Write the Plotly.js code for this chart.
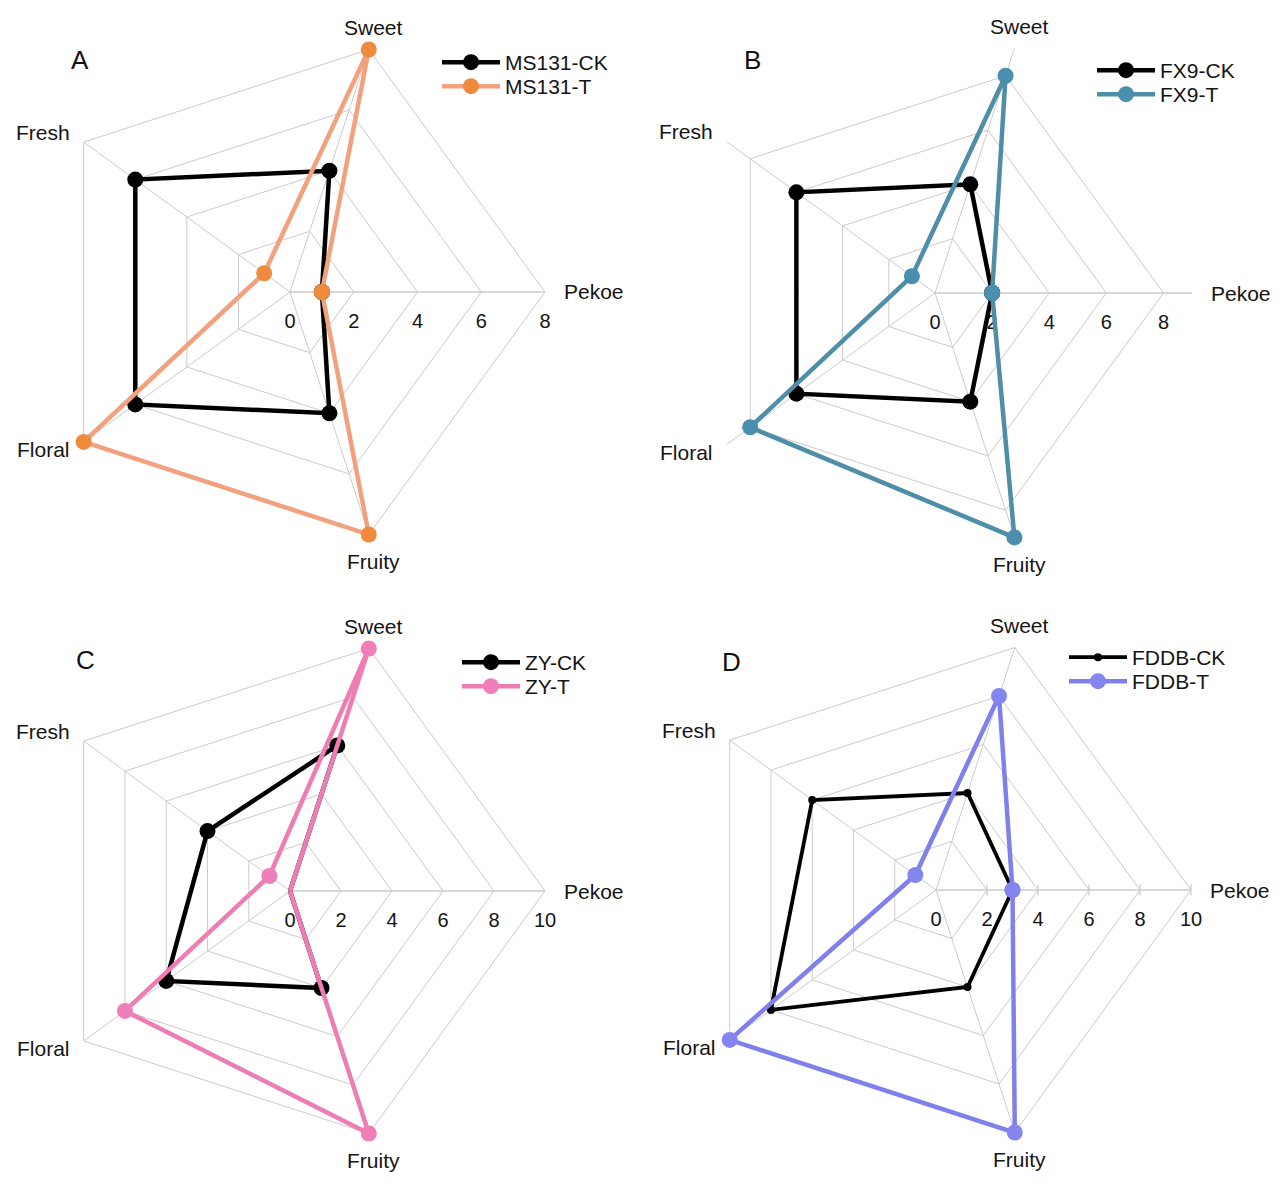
<!DOCTYPE html>
<html>
<head>
<meta charset="utf-8">
<script src="https://cdn.plot.ly/plotly-3.0.1.min.js"></script>
<style>
html,body{margin:0;padding:0;background:#fff;}
#chart{width:1280px;height:1183px;}
</style>
</head>
<body>
<div id="chart"></div>
<script>
// Attribute categories (counterclockwise from the right)
const categories = ["Pekoe", "Sweet", "Fresh", "Floral", "Fruity"];

// Panel A
const msCK = [1, 4, 6, 6, 4];
const msT  = [1, 8, 1, 8, 8];
// Panel B
const fxCK = [2, 4, 6, 6, 4];
const fxT  = [2, 8, 1, 8, 9];
// Panel C
const zyCK = [0, 6, 4, 6, 4];
const zyT  = [0, 10, 1, 8, 10];
// Panel D
const fdCK = [3, 4, 6, 8, 4];
const fdT  = [3, 8, 1, 10, 10];

const seriesNames = ["MS131-CK", "MS131-T", "FX9-CK", "FX9-T", "ZY-CK", "ZY-T", "FDDB-CK", "FDDB-T"];
const panelLetters = ["A", "B", "C", "D"];
const radialRanges = [[0, 8], [0, 9], [0, 10], [0, 10]];
const radialTicks = [[0, 2, 4, 6, 8], [0, 2, 4, 6, 8], [0, 2, 4, 6, 8, 10], [0, 2, 4, 6, 8, 10]];

const W = 1280, H = 1183;
function closeLoop(a) { return a.concat([a[0]]); }

const FONT = "Liberation Sans, Arial, Helvetica, sans-serif";
const GRID = "#cbcbcb";
const TXT = "#141414";

function tr(vals, name, sub, leg, lineColor, markColor, lw, ms) {
  return {
    type: "scatterpolar",
    r: closeLoop(vals),
    theta: closeLoop(categories),
    name: name,
    subplot: sub,
    legend: leg,
    mode: "lines+markers",
    line: {color: lineColor, width: lw},
    marker: {color: markColor, size: ms},
    cliponaxis: false,
    hoverinfo: "skip"
  };
}

const data = [
  tr(msCK, seriesNames[0], "polar", "legend", "#000000", "#000000", 4.5, 16),
  tr(msT,  seriesNames[1], "polar", "legend2", "#F2A07E", "#EF8B3D", 4.5, 16),
  tr(fxCK, seriesNames[2], "polar2", "legend3", "#000000", "#000000", 4.5, 16),
  tr(fxT,  seriesNames[3], "polar2", "legend4", "#4E8EA6", "#4A8FAE", 4.5, 16),
  tr(zyCK, seriesNames[4], "polar3", "legend5", "#000000", "#000000", 4.5, 16),
  tr(zyT,  seriesNames[5], "polar3", "legend6", "#EE7DB4", "#F07EB8", 4.5, 16),
  tr(fdCK, seriesNames[6], "polar4", "legend7", "#000000", "#000000", 3.8, 8),
  tr(fdT,  seriesNames[7], "polar4", "legend8", "#8080EC", "#8585F0", 4.5, 16),
  // empty traces that only host the tick-mark overlays of panel D
  {type: "scatterpolar", r: [], theta: [], subplot: "polar5", showlegend: false, hoverinfo: "skip"},
  {type: "scatterpolar", r: [], theta: [], subplot: "polar6", showlegend: false, hoverinfo: "skip"}
];

// polar geometry in pixels: center x, center y, radius
const geo = [
  {cx: 290, cy: 292, R: 255},
  {cx: 935, cy: 293, R: 257},
  {cx: 290, cy: 891, R: 255},
  {cx: 936, cy: 890, R: 255}
];

function domainOf(g) {
  return {
    x: [(g.cx - g.R) / W, (g.cx + g.R) / W],
    y: [1 - (g.cy + g.R) / H, 1 - (g.cy - g.R) / H]
  };
}

function polarLayout(i) {
  const g = geo[i];
  return {
    domain: domainOf(g),
    gridshape: "linear",
    bgcolor: "rgba(0,0,0,0)",
    radialaxis: {
      range: radialRanges[i],
      tickvals: radialTicks[i],
      ticktext: radialTicks[i].map(String),
      showgrid: true,
      gridcolor: GRID,
      gridwidth: 1,
      showline: true,
      linecolor: GRID,
      linewidth: 1,
      ticks: "outside",
      ticklen: 11,
      tickcolor: "rgba(0,0,0,0)",
      tickfont: {family: FONT, size: 20, color: TXT},
      angle: 0,
      tickangle: 0,
      layer: "below traces"
    },
    angularaxis: {
      type: "category",
      categoryarray: categories,
      rotation: 0,
      direction: "counterclockwise",
      showgrid: true,
      gridcolor: GRID,
      gridwidth: 1,
      showline: i !== 1,
      linecolor: GRID,
      linewidth: 1,
      ticks: "",
      showticklabels: false,
      layer: "below traces"
    }
  };
}

// overlay polars for the small crossing tick marks of panel D
function tickOverlay(kind) {
  const g = geo[3];
  return {
    domain: domainOf(g),
    gridshape: "linear",
    bgcolor: "rgba(0,0,0,0)",
    radialaxis: {
      range: radialRanges[3],
      tickvals: radialTicks[3].slice(1),
      showgrid: false, showline: false, showticklabels: false,
      ticks: kind, ticklen: 5, tickcolor: "#bdbdbd", tickwidth: 1,
      angle: 0, layer: "below traces"
    },
    angularaxis: {
      type: "category", categoryarray: categories, rotation: 0,
      direction: "counterclockwise", showgrid: false, showline: false,
      showticklabels: false, ticks: ""
    }
  };
}

// one legend per series so the row spacing can follow the original
const legendRows = [
  {x: 437, y: 62}, {x: 437, y: 86},
  {x: 1092, y: 70}, {x: 1092, y: 94},
  {x: 457, y: 662}, {x: 457, y: 686},
  {x: 1064, y: 657}, {x: 1064, y: 681}
];
function legendLayout(i) {
  const p = legendRows[i];
  return {
    x: p.x / W, y: 1 - (p.y - 20) / H, xanchor: "left", yanchor: "top",
    bgcolor: "rgba(0,0,0,0)",
    font: {family: FONT, size: 21, color: TXT},
    tracegroupgap: 0,
    itemwidth: 58,
    traceorder: "normal"
  };
}

const letterPos = [[80, 60], [752, 60], [85, 660], [731, 662]];
const annotations = panelLetters.map((t, i) => ({
  text: t, x: letterPos[i][0] / W, y: 1 - letterPos[i][1] / H,
  xref: "paper", yref: "paper", showarrow: false,
  xanchor: "center", yanchor: "middle",
  font: {family: FONT, size: 26, color: "#111"}
}));

// angular category labels, placed just outside each outer vertex
const labelShift = [
  {dx: 17, dy: 0, anchor: "left"},     // Pekoe
  {dx: 5, dy: -22, anchor: "center"},  // Sweet
  {dx: -12, dy: -10, anchor: "right"}, // Fresh
  {dx: -12, dy: 8, anchor: "right"},   // Floral
  {dx: 5, dy: 27, anchor: "center"}    // Fruity
];
geo.forEach((g, i) => {
  categories.forEach((c, k) => {
    const a = k * 2 * Math.PI / categories.length;
    const vx = g.cx + g.R * Math.cos(a);
    const vy = g.cy - g.R * Math.sin(a);
    const s = labelShift[k];
    annotations.push({
      text: c, x: (vx + s.dx) / W, y: 1 - (vy + s.dy) / H,
      xref: "paper", yref: "paper", showarrow: false,
      xanchor: s.anchor, yanchor: "middle",
      font: {family: FONT, size: 21, color: TXT}
    });
  });
});

const layout = {
  width: W, height: H,
  margin: {l: 0, r: 0, t: 0, b: 0},
  paper_bgcolor: "#ffffff",
  font: {family: FONT, color: TXT},
  showlegend: true,
  polar: polarLayout(0),
  polar2: polarLayout(1),
  polar3: polarLayout(2),
  polar4: polarLayout(3),
  polar5: tickOverlay("outside"),
  polar6: tickOverlay("inside"),
  annotations: annotations
};
const legendKeys = ["legend", "legend2", "legend3", "legend4", "legend5", "legend6", "legend7", "legend8"];
legendKeys.forEach((k, i) => { layout[k] = legendLayout(i); });

Plotly.newPlot("chart", data, layout, {displayModeBar: false, staticPlot: true}).then(function () {
  // let the series lines that run along the outer frame keep their full width
  document.querySelectorAll("#chart .polarlayer [clip-path]").forEach(function (el) {
    el.removeAttribute("clip-path");
  });
});
</script>
</body>
</html>
